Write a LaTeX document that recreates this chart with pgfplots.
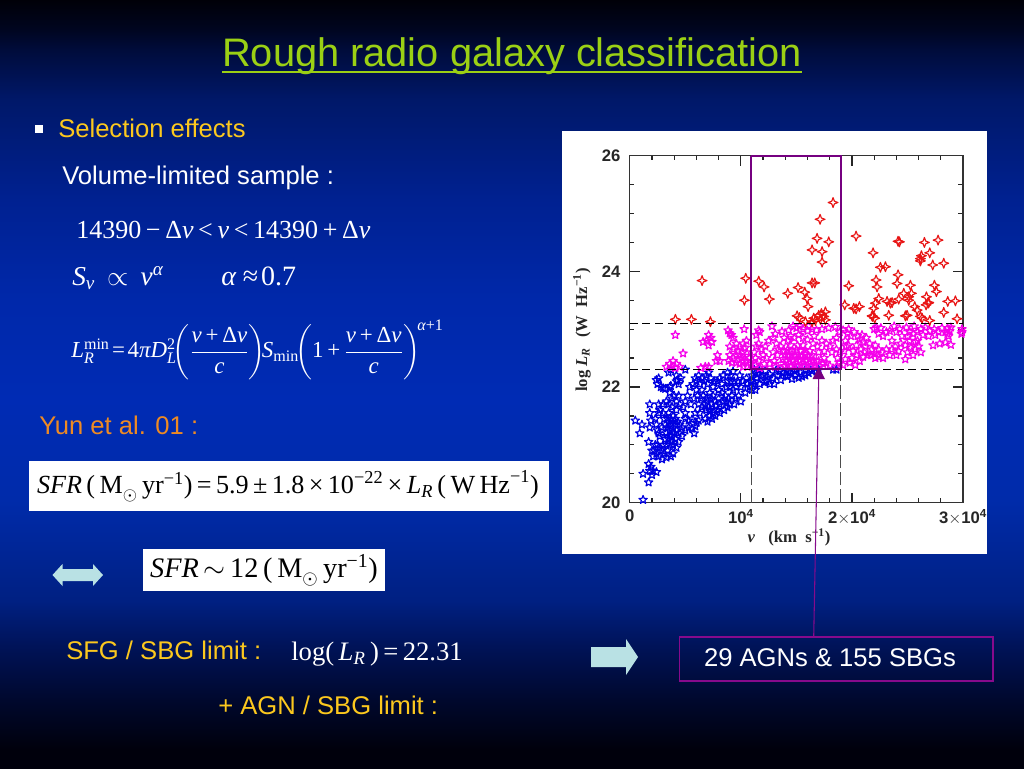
\documentclass[border=0pt]{standalone}
\usepackage{fix-cm}
\usepackage{amsmath}
\usepackage[no-math]{fontspec}
\usepackage{pgfplots}
\pgfplotsset{compat=1.18}
\setmainfont{Liberation Sans}
\newfontfamily\ser{Liberation Serif}
\newcommand{\ti}[1]{\text{\ser\itshape #1}}
\newcommand{\tr}[1]{\text{\ser #1}}
\newcommand{\fs}[1]{\fontsize{#1}{#1}\selectfont}
\newcommand{\op}[1]{\kern.18em #1\kern.18em}
\definecolor{c_title}{RGB}{155,208,20}
\definecolor{c_gold}{RGB}{252,200,30}
\definecolor{c_orange}{RGB}{238,138,35}
\definecolor{c_box}{RGB}{118,0,128}
\definecolor{c_frame}{RGB}{135,10,140}
\definecolor{c_arrow}{RGB}{185,225,228}
\definecolor{c_red}{RGB}{232,20,20}
\definecolor{c_pink}{RGB}{245,0,235}
\definecolor{c_blue}{RGB}{0,0,225}
% slide background, top to bottom
\definecolor{bgA}{RGB}{0,0,8}
\definecolor{bgB}{RGB}{0,5,30}
\definecolor{bgC}{RGB}{0,12,60}
\definecolor{bgD}{RGB}{0,24,105}
\definecolor{bgE}{RGB}{0,33,145}
\definecolor{bgF}{RGB}{0,40,170}
\definecolor{bgG}{RGB}{0,43,180}
\definecolor{bgH}{RGB}{0,43,170}
\definecolor{bgI}{RGB}{0,32,130}
\definecolor{bgJ}{RGB}{0,18,85}
\definecolor{bgK}{RGB}{0,8,45}
\definecolor{bgL}{RGB}{0,0,12}
\pgfdeclareverticalshading{slidebg}{100bp}{
  color(0bp)=(bgL);
  color(26.2bp)=(bgL);
  color(29.4bp)=(bgK);
  color(32.7bp)=(bgJ);
  color(35.9bp)=(bgI);
  color(42.4bp)=(bgH);
  color(49bp)=(bgG);
  color(55.5bp)=(bgF);
  color(62bp)=(bgE);
  color(68.5bp)=(bgD);
  color(71.7bp)=(bgC);
  color(73.2bp)=(bgB);
  color(75bp)=(bgA);
  color(100bp)=(bgA)}
% open five pointed star and open four pointed star
\pgfdeclareplotmark{ostar}{%
  \pgfpathmoveto{\pgfqpointpolar{90}{\pgfplotmarksize}}%
  \pgfpathlineto{\pgfqpointpolar{126}{0.42\pgfplotmarksize}}%
  \pgfpathlineto{\pgfqpointpolar{162}{\pgfplotmarksize}}%
  \pgfpathlineto{\pgfqpointpolar{198}{0.42\pgfplotmarksize}}%
  \pgfpathlineto{\pgfqpointpolar{234}{\pgfplotmarksize}}%
  \pgfpathlineto{\pgfqpointpolar{270}{0.42\pgfplotmarksize}}%
  \pgfpathlineto{\pgfqpointpolar{306}{\pgfplotmarksize}}%
  \pgfpathlineto{\pgfqpointpolar{342}{0.42\pgfplotmarksize}}%
  \pgfpathlineto{\pgfqpointpolar{18}{\pgfplotmarksize}}%
  \pgfpathlineto{\pgfqpointpolar{54}{0.42\pgfplotmarksize}}%
  \pgfpathclose\pgfusepathqstroke}
\pgfdeclareplotmark{fstar}{%
  \pgfpathmoveto{\pgfqpointpolar{90}{\pgfplotmarksize}}%
  \pgfpathlineto{\pgfqpointpolar{135}{0.38\pgfplotmarksize}}%
  \pgfpathlineto{\pgfqpointpolar{180}{\pgfplotmarksize}}%
  \pgfpathlineto{\pgfqpointpolar{225}{0.38\pgfplotmarksize}}%
  \pgfpathlineto{\pgfqpointpolar{270}{\pgfplotmarksize}}%
  \pgfpathlineto{\pgfqpointpolar{315}{0.38\pgfplotmarksize}}%
  \pgfpathlineto{\pgfqpointpolar{0}{\pgfplotmarksize}}%
  \pgfpathlineto{\pgfqpointpolar{45}{0.38\pgfplotmarksize}}%
  \pgfpathclose\pgfusepathqstroke}
\begin{document}
\begin{tikzpicture}[x=0.75pt,y=-0.75pt]
\shade[shading=slidebg] (0,0) rectangle (1024,768);
\useasboundingbox (0,0) rectangle (1024,768);
\fill[white] (562,131) rectangle (987,554);

\begin{axis}[
    at={(472.3pt,-377pt)},
    anchor=south west,
    scale only axis,
    width=250pt,
    height=260.25pt,
    xmin=0, xmax=30,
    ymin=20, ymax=26,
    xtick={0,10,20,30},
    xticklabels={0,{10$^{\text{\bfseries 4}}$},{2$\times$10$^{\text{\bfseries 4}}$},{3$\times$10$^{\text{\bfseries 4}}$}},
    ytick={20,22,24,26},
    minor x tick num=4,
    minor y tick num=3,
    tick align=inside,
    major tick length=7.5pt,
    minor tick length=3.5pt,
    tick style={black!85, line width=0.9pt},
    axis line style={black!80, line width=1.1pt},
    ticklabel style={font=\bfseries\fontsize{12.5}{13}\selectfont, text=black!85},
    /pgf/number format/assume math mode=true,
    xticklabel style={yshift=-1.5pt},
    yticklabel style={xshift=-3.5pt},
    clip mode=individual,
]
% SBG stars below the limit
\addplot[only marks, mark=ostar, mark size=3.3pt, c_blue, line width=0.85pt, line join=round] coordinates {
(1.2,20.05)(1.7,20.35)(1.2,20.5)(2.4,20.53)(1.8,20.55)(1.9,20.62)(1.7,20.67)(2.0,20.48)(2.1,20.55)
(0.5,21.42)(1.1,21.35)(0.9,21.2)(1.7,21.05)(1.8,21.3)(1.9,21.42)(1.8,21.55)(1.8,21.7)(2.0,20.9)(2.1,20.8)
(2.4,22.12)(2.6,22.15)(2.5,22.05)(2.8,22.0)(3.2,21.97)(3.6,22.0)(3.7,22.02)(3.0,21.98)
(3.5,22.25)(3.7,22.3)(4.2,22.2)(4.3,22.12)(4.2,22.1)(4.4,22.05)(4.6,22.15)(5.0,22.3)
(4.0,21.85)(3.8,21.8)(4.2,21.75)(4.5,21.7)(3.3,21.75)(3.5,21.7)(3.0,21.7)(2.7,21.6)(2.6,21.55)(3.0,21.55)
(3.8,21.65)(4.2,21.6)(4.8,21.65)(5.0,21.55)(5.0,21.75)(3.1,21.45)(4.4,21.85)(3.6,21.9)(2.6,21.7)
(2.5,21.25)(2.6,21.2)(2.7,21.15)(2.9,21.3)(3.2,21.35)(3.5,21.4)(3.7,21.45)(3.9,21.5)(4.1,21.45)(4.3,21.4)(4.5,21.35)
(3.3,21.2)(3.6,21.25)(3.9,21.3)(4.2,21.25)(4.4,21.2)(3.2,21.1)(3.5,21.1)(3.8,21.15)(4.1,21.1)(4.4,21.05)(4.7,21.15)
(3.0,21.0)(3.3,21.0)(3.6,21.0)(3.9,21.0)(4.2,20.95)(2.5,21.0)(2.7,20.95)(2.9,20.9)(3.1,20.85)(3.4,20.9)
(2.4,20.85)(2.6,20.8)(2.9,20.75)(3.3,20.78)(3.7,20.8)(3.9,20.85)(2.2,20.9)(2.3,21.0)(3.4,21.3)(3.7,21.35)(4.0,21.2)
(5.0,21.25)(5.3,21.3)(5.6,21.28)(5.9,21.32)(5.8,21.2)(4.7,21.3)(3.5,21.55)(4.1,21.35)(3.6,21.15)(3.8,21.05)(3.4,21.45)
(5.2,21.85)(5.5,21.7)(5.0,21.45)(5.3,21.42)(5.6,21.44)(6.0,21.38)(6.2,21.42)(5.9,21.55)(6.3,21.55)(5.8,21.8)
(5.7,22.05)(5.9,22.15)(6.2,22.2)(6.5,22.15)(5.4,22.0)(6.0,21.95)(6.1,21.85)(2.3,21.45)(2.4,21.35)
(6.0,22.1)(6.3,22.05)(6.5,21.95)(6.7,22.1)(6.9,22.2)(7.1,22.25)(7.0,22.05)(7.3,22.15)(7.5,22.0)
(6.6,21.85)(6.9,21.8)(7.2,21.9)(7.5,21.85)(6.2,21.7)(6.5,21.65)(6.8,21.7)(7.1,21.65)(7.4,21.7)(7.7,21.75)(8.0,21.8)(8.3,21.9)
(7.6,21.6)(7.9,21.6)(7.2,21.5)(6.8,21.45)(7.0,21.4)(7.4,21.45)(7.7,21.5)(8.1,21.55)(8.5,21.6)(8.8,21.65)
(8.3,22.05)(8.1,22.15)(8.4,22.2)(8.8,22.25)(9.1,22.2)(9.4,22.1)(8.7,22.0)(9.0,22.0)(9.3,21.95)(9.6,22.0)
(8.6,21.85)(8.9,21.8)(9.2,21.85)(9.5,21.8)(9.8,21.85)(10.0,22.0)(10.2,22.1)(10.5,22.15)(10.0,21.75)(10.4,21.9)(9.0,21.7)(9.4,21.7)
(7.0,21.75)(7.3,21.8)(6.9,21.6)(7.2,21.6)(7.5,21.55)(7.8,21.68)(8.1,21.7)(8.4,21.75)(8.7,21.75)(8.0,21.95)(9.7,22.1)(9.9,22.2)
(8.8,22.1)(9.1,22.1)(9.3,22.27)(7.9,22.1)(6.4,21.8)(7.6,22.1)
(10.8,22.0)(11.0,21.95)(11.3,21.95)(11.1,22.1)(11.4,22.15)(11.7,22.05)(11.0,22.2)(11.3,22.25)(11.6,22.3)(12.0,22.2)(12.3,22.1)(12.6,22.05)
(12.2,22.28)(12.6,22.22)(12.9,22.15)(13.0,22.05)(13.3,22.2)(13.6,22.12)(13.2,22.3)(13.8,22.25)(14.2,22.18)(14.6,22.14)(14.1,22.3)(14.5,22.25)
(14.9,22.2)(15.2,22.16)(15.0,22.3)(15.4,22.25)(15.8,22.2)(16.1,22.24)(16.4,22.28)(15.8,22.3)(16.8,22.27)(17.0,22.3)(18.3,22.3)(18.6,22.3)
(11.2,22.05)(11.5,22.22)(11.8,22.18)(12.1,22.08)(12.4,22.18)(13.5,22.27)(14.0,22.2)(14.3,22.27)(14.8,22.28)(15.5,22.18)(16.2,22.3)
(10.6,22.05)(10.9,22.1)(11.2,22.3)
};
% SBG stars between the two limits
\addplot[only marks, mark=ostar, mark size=3.3pt, c_pink, line width=0.85pt, line join=round] coordinates {
(3.3,22.35)(3.6,22.4)(3.9,22.45)(4.2,22.4)(4.5,22.35)(3.8,22.35)(4.1,22.33)(4.1,22.9)(4.8,22.58)(6.4,22.33)(6.8,22.35)(7.1,22.35)
(6.6,22.78)(6.9,22.8)(7.1,22.9)(7.3,22.85)(7.4,22.78)(7.1,22.72)(7.8,22.45)(7.9,22.55)(8.1,22.45)
(8.85,22.98)(9.0,22.93)(9.15,22.9)(9.3,22.85)(9.0,22.7)(9.3,22.65)(9.6,22.75)(9.9,22.7)(10.2,22.75)(10.5,22.8)
(9.0,22.55)(9.3,22.5)(9.6,22.55)(9.9,22.55)(10.2,22.6)(10.5,22.6)(8.9,22.45)(9.6,22.42)(9.9,22.4)(10.2,22.45)(10.5,22.45)(10.8,22.5)
(10.2,22.35)(10.6,22.35)(10.9,22.4)(10.3,23.0)(9.2,22.42)(11.6,22.98)(11.7,22.95)(10.4,22.68)(9.75,22.62)(10.1,22.5)
(11.2,22.6)(11.4,22.7)(11.6,22.75)(11.9,22.65)(12.2,22.7)(12.5,22.8)(12.9,22.85)(11.3,22.5)(11.6,22.45)(12.0,22.55)(12.3,22.5)
(11.3,22.38)(11.7,22.33)(12.1,22.4)(12.6,22.4)(12.9,22.6)(13.0,22.45)(13.3,22.55)(13.1,22.35)(12.8,23.05)(13.7,22.96)
(13.6,22.4)(13.9,22.36)(14.2,22.38)(14.5,22.36)(14.8,22.38)(15.1,22.36)(15.4,22.38)(15.7,22.36)(16.0,22.38)(16.3,22.36)(16.6,22.38)
(13.8,22.48)(14.1,22.46)(14.4,22.48)(14.7,22.46)(15.0,22.48)(15.3,22.46)(15.6,22.48)(15.9,22.46)(16.2,22.48)(16.5,22.46)(16.8,22.45)
(14.0,22.56)(14.3,22.54)(14.6,22.56)(14.9,22.54)(15.2,22.56)(15.5,22.54)(15.8,22.56)(16.1,22.54)(16.4,22.55)
(14.2,22.64)(14.6,22.62)(15.0,22.64)(15.4,22.62)(15.8,22.64)(16.2,22.62)(13.9,22.62)(13.6,22.7)(14.5,22.72)(15.1,22.72)(15.6,22.72)
(17.0,22.45)(17.4,22.4)(17.7,22.42)(18.0,22.37)(17.1,22.36)(17.5,22.5)(18.6,22.35)(18.9,22.42)(18.7,22.5)(18.9,22.6)
(13.9,22.85)(14.2,22.8)(14.5,22.88)(14.8,22.85)(15.2,22.9)(15.0,23.02)(15.3,23.05)(15.6,23.0)(16.0,22.97)(16.4,23.0)(16.8,22.98)
(15.6,22.85)(16.0,22.82)(16.9,22.7)(17.3,22.8)(17.7,22.75)(18.0,22.7)(18.3,22.8)(18.6,22.85)(18.9,22.95)(18.5,23.04)(17.9,23.02)(17.3,23.0)
(17.0,22.6)(17.5,22.62)(18.2,22.6)(18.6,22.65)(16.5,22.75)(13.2,22.75)(13.4,22.65)
(11.4,22.9)(13.1,22.92)(14.3,22.98)(14.7,23.05)(16.1,23.05)(16.6,22.88)
(19.2,22.98)(19.6,22.92)(19.9,22.88)(19.4,22.8)(19.7,22.72)(19.3,22.62)(19.4,22.48)(19.8,22.42)(20.3,22.38)(20.0,22.5)(19.2,22.38)
(19.7,23.0)(20.2,22.95)(20.5,22.88)(20.9,22.9)(19.5,22.7)(20.7,22.45)
(20.1,22.62)(20.4,22.55)(20.4,22.72)(20.7,22.82)(21.0,22.78)(21.2,22.7)(20.8,22.65)(21.1,22.6)(21.4,22.55)(21.0,22.52)
(21.3,22.85)(21.6,22.75)(21.8,22.65)(22.0,22.58)(21.7,22.55)(22.1,22.5)(22.4,22.52)(22.4,22.65)(22.7,22.6)(22.8,22.5)(22.1,22.72)
(22.0,23.0)(22.4,22.92)(22.8,22.88)(22.6,23.02)(23.1,22.95)(23.1,22.65)(23.4,22.55)(23.6,22.65)(23.9,22.7)(24.2,22.62)(24.0,22.55)
(24.0,22.95)(24.3,23.0)(25.6,23.05)(26.2,23.0)(26.9,22.88)(23.4,22.97)(23.8,23.05)(22.2,23.03)
(23.6,22.8)(24.4,22.75)(24.8,22.72)(24.5,22.88)(24.9,23.03)(25.0,22.88)(25.2,22.8)(25.5,22.92)(25.3,22.68)(25.7,22.65)(25.5,22.55)
(25.0,22.6)(24.8,22.48)(25.9,22.8)(25.9,22.95)(26.0,22.7)(26.2,22.6)(25.7,22.78)(26.4,22.9)(26.6,23.03)(25.2,22.95)
(27.0,22.97)(27.4,23.0)(27.8,22.95)(27.5,22.9)(28.1,23.02)(28.4,22.95)(28.6,22.92)(28.8,22.97)(28.9,23.03)(27.3,22.72)(27.9,22.75)(28.4,22.77)(28.9,22.73)
(28.6,23.02)(28.7,22.88)(29.9,22.95)(29.9,23.0)(29.85,22.92)
};
% AGN
\addplot[only marks, mark=fstar, mark size=3.7pt, c_red, line width=0.85pt, line join=round] coordinates {
(4.11,23.17)(5.55,23.17)(7.26,23.13)(6.51,23.84)(10.44,23.88)(10.32,23.50)(11.61,23.83)(12.09,23.73)(12.57,23.52)(14.22,23.62)
(15.15,23.72)(15.75,23.64)(15.96,23.53)(16.05,23.39)(15.06,23.23)(15.27,23.20)(16.41,23.80)(16.65,23.80)(16.41,24.37)(16.86,24.57)
(17.31,24.34)(17.31,24.16)(17.13,24.90)(17.91,24.51)(18.30,25.19)(16.56,23.19)(17.01,23.24)(17.25,23.27)(17.61,23.30)(17.46,23.22)
(17.16,23.17)(16.71,23.15)(17.61,23.16)(15.81,23.13)(16.41,23.13)(19.35,23.42)(19.71,23.75)(20.16,23.36)(20.37,23.35)(20.67,23.39)
(20.37,24.61)(21.90,24.32)(22.17,23.85)(22.26,23.73)(22.41,23.53)(22.11,23.45)(21.96,23.36)(21.87,23.22)(22.05,23.19)(21.81,23.23)
(22.56,24.07)(23.01,24.08)(23.16,23.48)(23.46,23.45)(23.61,23.46)(23.31,23.24)(24.06,23.79)(24.15,23.94)(24.21,23.52)(24.15,24.52)
(24.27,24.51)(24.81,23.23)(24.96,23.24)(24.66,23.62)(25.11,23.56)(25.26,23.76)(25.35,23.62)(25.11,23.50)(25.65,23.39)(25.86,23.33)
(26.16,23.22)(26.16,24.22)(26.25,24.27)(26.16,24.18)(26.52,24.50)(27.00,24.32)(27.27,24.11)(27.42,23.76)(27.60,23.65)(26.70,23.56)
(26.85,23.45)(26.67,23.42)(26.91,23.46)(27.00,23.15)(28.26,23.29)(28.26,24.14)(27.75,24.54)(28.62,23.48)(29.31,23.49)(29.46,23.18)(26.31,23.19)
};
% limits
\addplot[black, line width=0.8pt, dash pattern=on 6pt off 3.5pt] coordinates {(0,23.1)(30,23.1)};
\addplot[black, line width=0.8pt, dash pattern=on 6pt off 3.5pt] coordinates {(0,22.31)(30,22.31)};
\addplot[black!70, line width=0.5pt, dash pattern=on 10pt off 3pt] coordinates {(10.95,20)(10.95,22.31)};
\addplot[black!70, line width=0.5pt, dash pattern=on 10pt off 3pt] coordinates {(18.95,20)(18.95,22.31)};
% selected volume
\addplot[c_box, line width=2pt] coordinates {(10.92,26)(10.92,22.31)(19.02,22.31)(19.02,26)(10.92,26)};
\end{axis}

% axis titles of the panel
\node[font=\ser\bfseries\fontsize{12.5}{13}\selectfont, text=black!85] at (789,537)
  {{\itshape v}\hspace{0.8em}(km\hspace{0.5em}s$^{\text{\bfseries −1}}$)};
\node[font=\ser\bfseries\fontsize{12.5}{13}\selectfont, text=black!85, rotate=90] at (582,330)
  {log\hspace{0.25em}{\itshape L}$_{\text{\bfseries\itshape R}}$\hspace{0.6em}(W\hspace{0.5em}Hz$^{\text{\bfseries −1}}$)};

% pointer from the panel to the count box
\draw[c_frame, line width=0.8pt] (813.7,637) -- (818.7,378);
\fill[c_box] (818.7,367) -- (825,379) -- (812.5,379) -- cycle;

% title
\node[anchor=base, inner sep=0, font=\fs{29.85}, text=c_title] at (512,66) {Rough radio galaxy classification};
\draw[c_title, line width=1.1pt] (222,72) -- (802,72);

% bullet and left column text
\fill[white] (35,125) rectangle (43,133);
\node[anchor=base west, inner sep=0, font=\fs{19.2}, text=c_gold] at (58,137) {Selection effects};
\node[anchor=base west, inner sep=0, font=\fs{19.2}, text=white] at (62,184) {Volume-limited sample :};

\node[anchor=base west, inner sep=0, text=white, font=\ser\fs{19.5}] at (76,238)
  {14390\op{−}Δ{\itshape v}\op{<}{\itshape v}\op{<}14390\op{+}Δ{\itshape v}};
\node[anchor=base west, inner sep=0, text=white, font=\ser\fs{20.5}] at (72,285)
  {$\ti{S}_{\ti{ν}}\,\propto\,\ti{ν}^{\ti{α}}$};
\node[anchor=base west, inner sep=0, text=white, font=\ser\fs{21}] at (221,285)
  {{\itshape α}\kern.25em≈\kern.1em0.7};
\node[anchor=west, inner sep=0, text=white, font=\ser\fs{17.2}] at (71,350)
  {\medmuskip=0mu\thickmuskip=2mu$\ti{L}_{\ti{R}}^{\tr{min}}\;\tr{=}\;\tr{4}\ti{π}\ti{D}_{\ti{L}}^{\tr{2}}\!\!
    \left(\dfrac{\ti{v}\tr{\,+\,Δ}\ti{v}}{\ti{c}}\right)\!\!\ti{S}_{\tr{min}}\!\!
    \left(\tr{1\,+\,}\dfrac{\ti{v}\tr{\,+\,Δ}\ti{v}}{\ti{c}}\right)^{\!\ti{α}\tr{+1}}$};
\node[anchor=base west, inner sep=0, font=\fs{19.2}, text=c_orange] at (39,434) {Yun et al. 01 :};

% boxed relations
\fill[white] (29,461) rectangle (549,511);
\node[text=black, inner sep=0, font=\ser\fs{19.6}] at (288,486)
  {\medmuskip=2mu\thickmuskip=2mu$\ti{SFR}\,\tr{(\,M}_{\odot}\,\tr{yr}^{\tr{−1}}\tr{)}\tr{\,=\,5.9\,±\,1.8\,×\,10}^{\tr{−22}}\tr{\,×\,}\ti{L}_{\ti{R}}\,\tr{(\,W\,Hz}^{\tr{−1}}\tr{)}$};
\fill[white] (143,549) rectangle (385,591);
\node[text=black, inner sep=0, font=\ser\fs{21.2}] at (264,570)
  {\medmuskip=2mu\thickmuskip=3mu$\ti{SFR}\sim\tr{12\,(\,M}_{\odot}\,\tr{yr}^{\tr{−1}}\tr{)}$};

% block arrows
\fill[c_arrow] (52.5,575) -- (62.5,564) -- (62.5,569) -- (93,569) -- (93,564) -- (103,575) -- (93,586) -- (93,581) -- (62.5,581) -- (62.5,586) -- cycle;
\fill[c_arrow] (591,647) -- (626,647) -- (626,639) -- (638,657) -- (626,675) -- (626,667) -- (591,667) -- cycle;

\node[anchor=base west, inner sep=0, font=\fs{19.2}, text=c_gold] at (66,659) {SFG / SBG limit :};
\node[anchor=base west, inner sep=0, text=white, font=\ser\fs{20}] at (291,660)
  {\medmuskip=2mu\thickmuskip=2mu$\tr{log(}\,\ti{L}_{\ti{R}}\tr{\,)\,=\,22.31}$};
\node[anchor=base west, inner sep=0, font=\fs{19.2}, text=c_gold] at (218,714) {+ AGN / SBG limit :};

\draw[c_frame, line width=0.9pt] (679.5,637) rectangle (993,681);
\node[font=\fs{19.2}, text=white] at (830,658) {29 AGNs \& 155 SBGs};
\end{tikzpicture}
\end{document}
